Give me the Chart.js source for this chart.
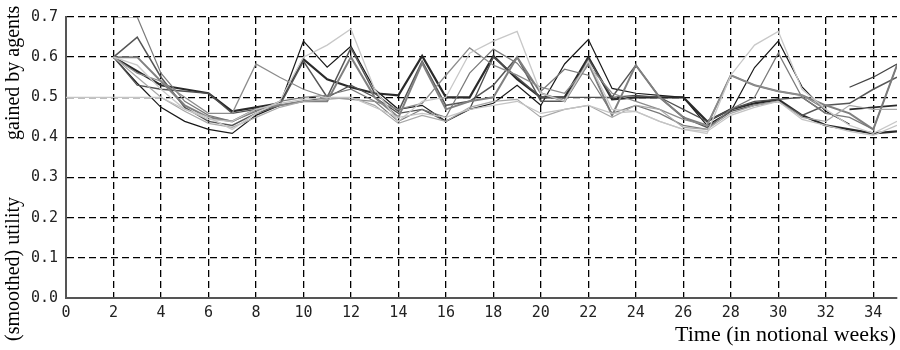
<!DOCTYPE html>
<html>
<head>
<meta charset="utf-8">
<script src="https://cdn.jsdelivr.net/npm/chart.js@4.4.1/dist/chart.umd.min.js"></script>
<style>
  body { margin: 0; background: #fff; }
  #wrap { width: 900px; height: 350px; position: relative; }
</style>
</head>
<body>
<div id="wrap"><canvas id="charts"></canvas></div>
<script>
// weeks 0..35, one value per week (null = no point)
var weeks = [0,1,2,3,4,5,6,7,8,9,10,11,12,13,14,15,16,17,18,19,20,21,22,23,24,25,26,27,28,29,30,31,32,33,34,35];
var weekTicks = [0,2,4,6,8,10,12,14,16,18,20,22,24,26,28,30,32,34];

var s1 = [null,null,0.60,0.535,0.475,0.44,0.42,0.41,0.455,0.48,0.64,0.575,0.627,0.52,0.47,0.48,0.44,0.47,0.485,0.53,0.48,0.583,0.644,0.522,0.51,0.505,0.50,0.43,0.465,0.574,0.64,0.526,0.465,0.433,null,null];
var s2 = [null,null,0.60,0.565,0.53,0.52,0.51,0.465,0.475,0.485,0.595,0.545,0.525,0.51,0.505,0.603,0.50,0.50,0.603,0.545,0.50,0.50,0.60,0.495,0.50,0.50,0.50,0.44,0.47,0.485,0.495,0.455,0.43,0.42,0.41,0.415];
var s3 = [null,null,0.60,0.65,0.55,0.475,0.44,0.43,0.46,0.48,0.59,0.50,0.623,0.51,0.465,0.59,0.48,0.49,0.53,0.60,0.49,0.49,0.595,0.50,0.58,0.50,0.45,0.425,0.465,0.48,0.49,0.455,0.48,0.485,0.52,0.55];
var s4 = [null,null,0.70,0.70,0.56,0.49,0.455,0.44,0.465,0.49,0.50,0.505,0.52,0.49,0.44,0.47,0.45,0.56,0.62,0.585,0.515,0.57,0.555,0.46,0.48,0.46,0.43,0.42,0.47,0.50,0.61,0.50,0.46,0.45,0.42,0.58];
var s5 = [null,null,0.60,0.56,0.54,0.50,0.46,0.46,0.583,0.55,0.52,0.50,0.495,0.49,0.47,0.485,0.555,0.623,0.58,0.555,0.525,0.51,0.58,0.51,0.49,0.47,0.445,0.43,0.555,0.53,0.515,0.505,0.47,null,null,null];
var s6 = [null,null,0.60,0.58,0.52,0.47,0.45,0.42,0.46,0.49,0.60,0.63,0.67,0.52,0.44,0.49,0.50,0.61,0.64,0.664,0.51,0.49,0.59,0.47,0.465,0.44,0.42,0.41,0.555,0.63,0.664,0.52,0.47,0.43,0.41,0.44];
var s7 = [0.50,0.50,0.50,0.50,0.50,0.47,0.445,0.44,0.47,0.485,0.495,0.50,0.50,0.475,0.45,0.46,0.45,0.47,0.48,0.49,0.46,0.47,0.48,0.46,0.465,0.44,0.42,0.415,0.455,0.475,0.49,0.445,0.43,0.415,0.405,0.43];
var s8 = [null,null,0.60,0.55,0.50,0.465,0.435,0.425,0.45,0.475,0.49,0.495,0.50,0.48,0.435,0.455,0.44,0.475,0.49,0.495,0.45,0.47,0.48,0.45,0.48,0.47,0.425,0.42,0.46,0.48,0.49,0.45,0.44,0.48,0.47,0.47];
var s9 = [null,null,0.60,0.53,0.52,0.515,0.51,0.46,0.47,0.48,0.49,0.50,0.53,0.50,0.46,0.47,0.44,0.47,0.60,0.55,0.50,0.50,0.50,0.50,0.505,0.50,0.47,0.44,0.47,0.49,0.495,0.50,0.46,null,null,null];
var s10 = [null,null,0.60,0.60,0.54,0.48,0.45,0.44,0.47,0.48,0.49,0.49,0.60,0.50,0.45,0.585,0.47,0.49,0.50,0.60,0.51,0.49,0.585,0.455,0.58,0.50,0.45,0.43,0.555,0.53,0.515,0.505,0.48,0.46,0.42,0.58];
var t1 = [null,null,null,null,null,null,null,null,null,null,null,null,null,null,null,null,null,null,null,null,null,null,null,null,null,null,null,null,null,null,null,null,null,0.525,0.55,0.583];
var t2 = [null,null,null,null,null,null,null,null,null,null,null,null,null,null,null,null,null,null,null,null,null,null,null,null,null,null,null,null,null,null,null,null,null,0.47,0.475,0.48];

var series = [
    { v: s7,  c: '#c4c4c4', w: 1.2 },
    { v: s6,  c: '#c8c8c8', w: 1.3 },
    { v: s8,  c: '#a8a8a8', w: 1.2 },
    { v: s5,  c: '#8c8c8c', w: 1.3 },
    { v: s4,  c: '#7a7a7a', w: 1.2 },
    { v: s10, c: '#808080', w: 2 },
    { v: s9,  c: '#505050', w: 1.3 },
    { v: s3,  c: '#555555', w: 1.5 },
    { v: s2,  c: '#2a2a2a', w: 2.2 },
    { v: s1,  c: '#1a1a1a', w: 1.2 },
    { v: t1,  c: '#444444', w: 1.3 },
    { v: t2,  c: '#2a2a2a', w: 1.8 }
];

var datasets = series.map(function (s) {
    return {
        data: weeks.map(function (w, i) { return { x: w, y: s.v[i] }; }),
        borderColor: s.c,
        borderWidth: s.w,
        pointRadius: 0,
        tension: 0,
        fill: false
    };
});

var titles = {
    id: 'titles',
    afterDraw: function (chart) {
        var ctx = chart.ctx;
        ctx.save();
        ctx.fillStyle = '#000';
        ctx.font = '22px "Liberation Serif"';
        ctx.textAlign = 'right';
        ctx.textBaseline = 'alphabetic';
        ctx.fillText('Time (in notional weeks)', 896, 341);

        ctx.font = '20px "Liberation Serif"';
        ctx.textBaseline = 'middle';
        ctx.save();
        ctx.translate(14, 140);
        ctx.rotate(-Math.PI / 2);
        ctx.textAlign = 'left';
        ctx.fillText('gained by agents', 0, 0);
        ctx.restore();
        ctx.save();
        ctx.translate(14, 197);
        ctx.rotate(-Math.PI / 2);
        ctx.textAlign = 'right';
        ctx.fillText('(smoothed) utility', 0, 0);
        ctx.restore();
        ctx.restore();
    }
};

var ctx = document.getElementById("charts");
new Chart(ctx, {
    type: 'line',
    data: { datasets: datasets },
    options: {
        responsive: true,
        maintainAspectRatio: false,
        animation: false,
        layout: { padding: { top: 10, right: 3, left: 0, bottom: 0 } },
        plugins: { legend: { display: false }, tooltip: { enabled: false } },
        scales: {
            x: {
                type: 'linear',
                min: 0,
                max: 35,
                afterFit: function (scale) { scale.height = 52; },
                afterBuildTicks: function (scale) {
                    scale.ticks = weekTicks.map(function (v) { return { value: v }; });
                },
                ticks: {
                    autoSkip: false,
                    maxRotation: 0,
                    padding: 6,
                    color: '#222',
                    font: { family: '"DejaVu Sans Mono"', size: 15 }
                },
                grid: { color: '#000', lineWidth: 1.3, drawTicks: false },
                border: { display: true, color: '#555', width: 2, dash: [7, 4] }
            },
            y: {
                min: 0,
                max: 0.7,
                afterFit: function (scale) { scale.width = 66; },
                ticks: {
                    stepSize: 0.1,
                    padding: 8,
                    color: '#222',
                    font: { family: '"DejaVu Sans Mono"', size: 15 },
                    callback: function (v) { return v.toFixed(1); }
                },
                grid: { color: '#000', lineWidth: 1.3, drawTicks: false },
                border: { display: true, color: '#555', width: 2, dash: [7, 4] }
            }
        }
    },
    plugins: [titles]
});
</script>
</body>
</html>
